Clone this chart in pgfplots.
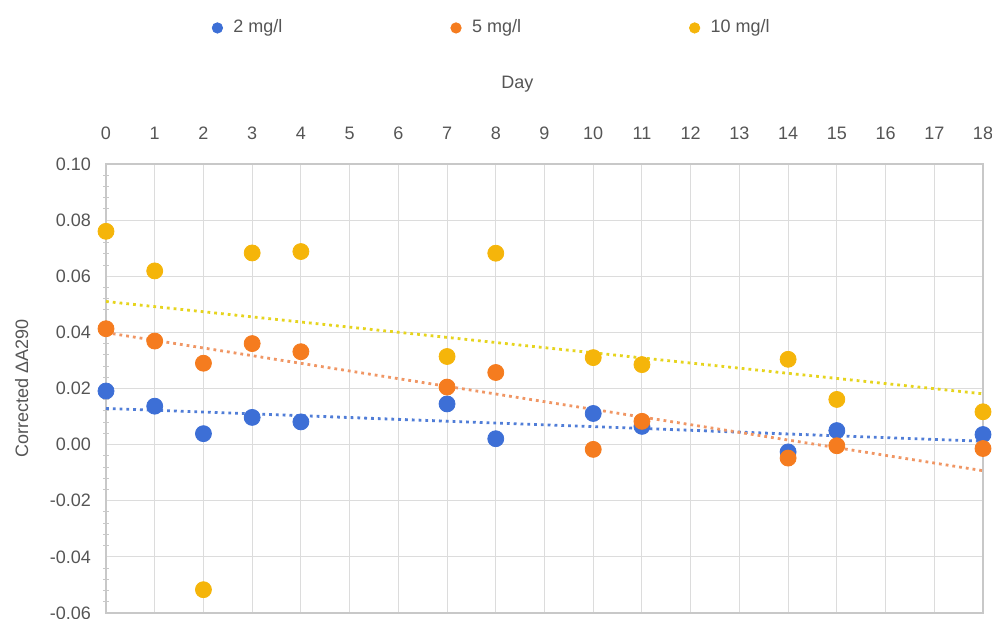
\documentclass[border=0pt]{standalone}
\usepackage{fontspec}
\setmainfont{Liberation Sans}
\usepackage{pgfplots}
\pgfplotsset{compat=1.18}
\usepackage{pgfplotstable}
\definecolor{cblue}{RGB}{61,111,214}
\definecolor{corange}{RGB}{245,124,31}
\definecolor{cyellow}{RGB}{245,181,10}
\definecolor{tblue}{RGB}{80,125,215}
\definecolor{torange}{RGB}{240,150,100}
\definecolor{tyellow}{RGB}{230,212,30}
\definecolor{gridgray}{RGB}{220,220,220}
\definecolor{axisgray}{RGB}{200,200,200}
\definecolor{textgray}{RGB}{85,85,85}

\pgfplotstableread{
day y
0 0.0191
1 0.0137
2 0.0039
3 0.0097
4 0.0081
7 0.0145
8 0.0021
10 0.0111
11 0.0065
14 -0.0026
15 0.0050
18 0.0036
}\tblblue
\pgfplotstableread{
day y
0 0.0413
1 0.0369
2 0.0290
3 0.0360
4 0.0331
7 0.0205
8 0.0257
10 -0.0017
11 0.0083
14 -0.0048
15 -0.0004
18 -0.0014
}\tblorange
\pgfplotstableread{
day y
0 0.0760
1 0.0619
2 -0.0517
3 0.0683
4 0.0688
7 0.0314
8 0.0682
10 0.0310
11 0.0285
14 0.0304
15 0.0161
18 0.0117
}\tblyellow

\begin{document}
\begin{tikzpicture}
\path[use as bounding box] (0,0) rectangle (496pt,309.5pt);
\begin{axis}[
  at={(53pt,3pt)}, anchor=south west,
  scale only axis, width=438.5pt, height=224.5pt,
  xmin=0, xmax=18, ymin=-0.06, ymax=0.10,
  xtick={0,1,...,18},
  ytick={-0.06,-0.04,-0.02,0,0.02,0.04,0.06,0.08,0.10},
  xtick pos=right, xticklabel pos=right,
  ytick pos=left,
  minor y tick num=4,
  major tick length=0pt, minor tick length=3pt, tick align=center,
  minor tick style={color=axisgray, line width=0.5pt},
  grid=major,
  major grid style={color=gridgray, line width=0.5pt},
  axis line style={color=axisgray, line width=0.6pt},
  /pgf/number format/assume math mode=true,
  every tick label/.append style={font=\fontsize{9}{10}\selectfont, text=textgray},
  yticklabel style={/pgf/number format/.cd, fixed, fixed zerofill, precision=2, /tikz/.cd, xshift=-4pt},
  xticklabel style={yshift=8.5pt},
  ylabel={Corrected ΔA290},
  ylabel style={at={(axis description cs:-0.096,0.5)}, anchor=center, font=\fontsize{9}{10}\selectfont, text=textgray},
  legend columns=3,
  legend style={draw=none, fill=none, at={(axis description cs:0.441,1.303)}, anchor=center,
    font=\fontsize{9}{10}\selectfont, text=textgray,
    /tikz/every even column/.append style={column sep=82pt}},
  legend image code/.code={\fill[#1] (0pt,0pt) circle (2.6pt); \path[draw=none,fill=none] (-2.6pt,0pt) (6pt,0pt);},
  clip=false,
]
\addplot[only marks, mark=*, mark size=4pt, color=cblue] table[x=day,y=y] {\tblblue};
\addlegendentry{2 mg/l}
\addplot[only marks, mark=*, mark size=4pt, color=corange] table[x=day,y=y] {\tblorange};
\addlegendentry{5 mg/l}
\addplot[only marks, mark=*, mark size=4pt, color=cyellow] table[x=day,y=y] {\tblyellow};
\addlegendentry{10 mg/l}
\addplot[forget plot, tblue, line width=1.4pt, dash pattern=on 1.4pt off 2pt] coordinates {(0,0.0129) (18,0.0012)};
\addplot[forget plot, torange, line width=1.4pt, dash pattern=on 1.4pt off 2pt] coordinates {(0,0.0399) (18,-0.0093)};
\addplot[forget plot, tyellow, line width=1.4pt, dash pattern=on 1.4pt off 2pt] coordinates {(0,0.0510) (18,0.0181)};
\node[font=\fontsize{9}{10}\selectfont, text=textgray] at (axis description cs:0.469,1.178) {Day};
\end{axis}
\end{tikzpicture}
\end{document}
